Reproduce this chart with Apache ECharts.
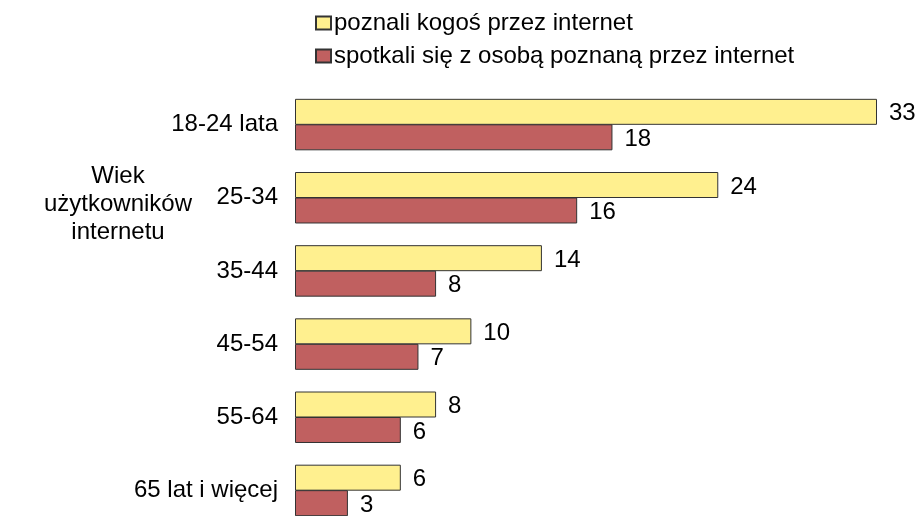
<!DOCTYPE html>
<html>
<head>
<meta charset="utf-8">
<script src="https://cdn.jsdelivr.net/npm/echarts@6/dist/echarts.min.js"></script>
<style>
  html, body { margin: 0; padding: 0; background: #fff; }
  #chart { width: 919px; height: 516px; }
</style>
</head>
<body>
<div id="chart"></div>
<script>
var chartDom = document.getElementById('chart');
var myChart = echarts.init(chartDom);
var option;

const categories = ['18-24 lata', '25-34', '35-44', '45-54', '55-64', '65 lat i więcej'];
const poznali = [33, 24, 14, 10, 8, 6];
const spotkali = [18, 16, 8, 7, 6, 3];
const seriesNames = ['poznali kogoś przez internet', 'spotkali się z osobą poznaną przez internet'];

const font = 'Liberation Sans, Arial, sans-serif';
const fs = 24;

option = {
  animation: false,
  textStyle: { fontFamily: font },
  legend: {
    orient: 'vertical',
    left: 310,
    top: 6,
    itemWidth: 15,
    itemHeight: 13,
    itemGap: 9,
    icon: 'rect',
    textStyle: { fontSize: fs, color: '#000', fontFamily: font, padding: [0, 0, 0, -2] },
    data: seriesNames
  },
  graphic: [{
    type: 'text',
    x: 118,
    y: 162,
    style: {
      text: 'Wiek\nużytkowników\ninternetu',
      textAlign: 'center',
      textVerticalAlign: 'top',
      fontSize: fs,
      lineHeight: 28,
      fill: '#000',
      fontFamily: font
    }
  }],
  grid: { left: 295, top: 88, width: 582, height: 439, outerBoundsMode: 'none' },
  xAxis: {
    type: 'value',
    min: 0,
    max: 33,
    show: false
  },
  yAxis: {
    type: 'category',
    inverse: true,
    data: categories,
    axisLine: { show: false },
    axisTick: { show: false },
    axisLabel: { fontSize: fs, color: '#000', margin: 17, fontFamily: font }
  },
  series: [
    {
      name: seriesNames[0],
      type: 'bar',
      data: poznali,
      barWidth: 26,
      barGap: '-2%',
      itemStyle: { color: '#FFF08F', borderColor: '#333', borderWidth: 1 },
      label: { show: true, position: 'right', distance: 12, offset: [0, 2], fontSize: fs, color: '#000', fontFamily: font }
    },
    {
      name: seriesNames[1],
      type: 'bar',
      data: spotkali,
      barWidth: 26,
      itemStyle: { color: '#C06060', borderColor: '#333', borderWidth: 1 },
      label: { show: true, position: 'right', distance: 12, offset: [0, 2], fontSize: fs, color: '#000', fontFamily: font }
    }
  ]
};

option && myChart.setOption(option);
</script>
</body>
</html>
